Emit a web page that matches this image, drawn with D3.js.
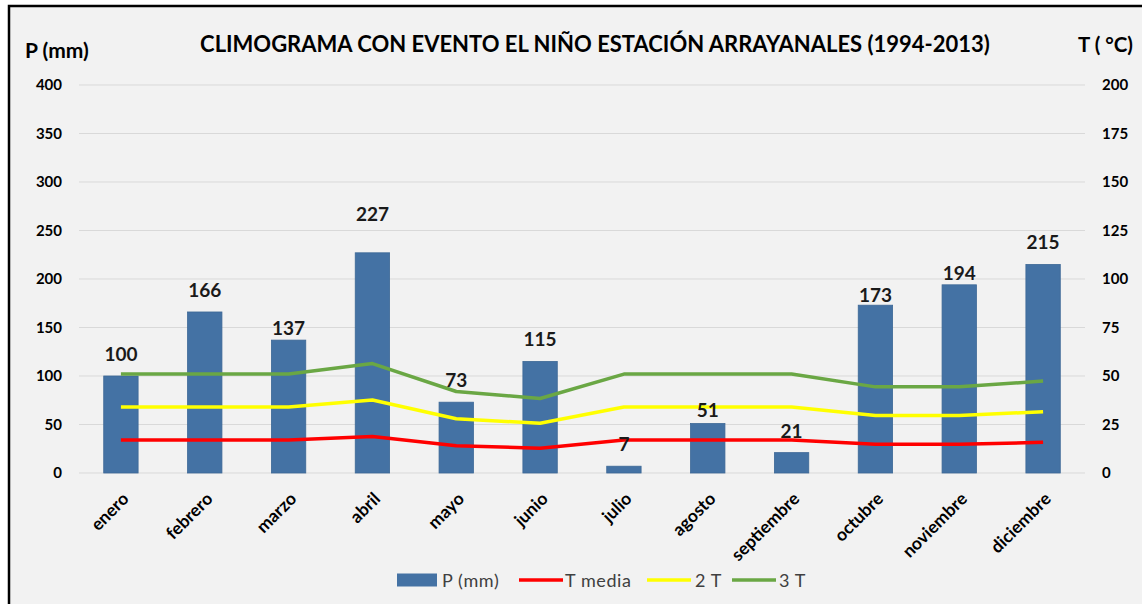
<!DOCTYPE html>
<html lang="es">
  <head>
    <meta charset="UTF-8" />
    <title>Climograma Arrayanales</title>
    <style>
      body { margin: 0; background: #fff; }
      text { font-family: Lato, "Open Sans", sans-serif; }
    </style>
  </head>
  <body>
    <script src="https://d3js.org/d3.v7.min.js"></script>
    <script>
      const months = ["enero", "febrero", "marzo", "abril", "mayo", "junio",
        "julio", "agosto", "septiembre", "octubre", "noviembre", "diciembre"];
      const precip = [100, 166, 137, 227, 73, 115, 7, 51, 21, 173, 194, 215];
      const tMedia = [17.0, 17.0, 17.0, 18.8, 14.0, 12.8, 17.0, 17.0, 17.0, 14.8, 14.8, 15.8];
      const pTicks = [0, 50, 100, 150, 200, 250, 300, 350, 400];
      const tTicks = [0, 25, 50, 75, 100, 125, 150, 175, 200];

      const W = 1142, H = 604;
      const margin = { top: 85, right: 57, bottom: 131, left: 79 };
      // gap in px between each bar top and its label (labels were nudged by hand)
      const labelGap = [15, 15, 5, 32, 15, 15, 15, 7, 15, 3, 5, 15];

      const svg = d3.select("body").append("svg")
        .attr("width", W).attr("height", H);

      // frame
      svg.append("rect")
        .attr("x", 9).attr("y", 6)
        .attr("width", W + 10).attr("height", H + 10)
        .attr("fill", "#f2f2f2")
        .attr("stroke", "#000").attr("stroke-width", 2.5);

      const x = d3.scaleBand()
        .domain(months)
        .range([margin.left, W - margin.right])
        .paddingInner(0.59).paddingOuter(0.295);
      const xc = d3.scalePoint()
        .domain(months)
        .range([margin.left, W - margin.right])
        .padding(0.5);

      const yP = d3.scaleLinear().domain([0, 400]).range([H - margin.bottom, margin.top]);
      const yT = d3.scaleLinear().domain([0, 200]).range([H - margin.bottom, margin.top]);

      // gridlines
      svg.append("g")
        .selectAll("line")
        .data(pTicks)
        .join("line")
        .attr("x1", margin.left).attr("x2", W - margin.right)
        .attr("y1", (d) => yP(d)).attr("y2", (d) => yP(d))
        .attr("stroke", "#d9d9d9").attr("stroke-width", 1);

      // left axis
      svg.append("g")
        .attr("transform", `translate(${margin.left - 17},0)`)
        .call(d3.axisLeft(yP).tickValues(pTicks).tickSize(0).tickPadding(0))
        .call((g) => g.select(".domain").remove())
        .call((g) => g.selectAll("text")
          .attr("font-size", 15).attr("font-weight", "bold")
          .attr("font-family", "Lato").attr("fill", "#000"));

      // right axis
      svg.append("g")
        .attr("transform", `translate(${W - margin.right + 17},0)`)
        .call(d3.axisRight(yT).tickValues(tTicks).tickSize(0).tickPadding(0))
        .call((g) => g.select(".domain").remove())
        .call((g) => g.selectAll("text")
          .attr("font-size", 15).attr("font-weight", "bold")
          .attr("font-family", "Lato").attr("fill", "#000"));

      // bars
      svg.append("g")
        .selectAll("rect")
        .data(precip)
        .join("rect")
        .attr("x", (d, i) => x(months[i]))
        .attr("y", (d) => yP(d))
        .attr("width", x.bandwidth())
        .attr("height", (d) => yP(0) - yP(d))
        .attr("fill", "#4472a4")
        .attr("stroke", "#3d6896").attr("stroke-width", 0.8);

      // temperature lines
      const series = [
        { name: "T media", color: "#ff0000", k: 1 },
        { name: "2 T", color: "#ffff00", k: 2 },
        { name: "3 T", color: "#6aa744", k: 3 }
      ];
      const line = d3.line()
        .x((d, i) => xc(months[i]))
        .y((d) => yT(d));
      svg.append("g")
        .selectAll("path")
        .data(series)
        .join("path")
        .attr("d", (s) => line(tMedia.map((t) => t * s.k)))
        .attr("fill", "none")
        .attr("stroke", (s) => s.color)
        .attr("stroke-width", 3.5)
        .attr("stroke-linejoin", "round");

      // bar labels
      svg.append("g")
        .selectAll("text")
        .data(precip)
        .join("text")
        .attr("x", (d, i) => xc(months[i]))
        .attr("y", (d, i) => yP(d) - labelGap[i])
        .attr("text-anchor", "middle")
        .attr("font-size", 19).attr("font-weight", "bold")
        .attr("fill", "#1a1a1a")
        .text((d) => d);

      // category labels
      svg.append("g")
        .selectAll("text")
        .data(months)
        .join("text")
        .attr("transform", (d) => `translate(${xc(d) + 9},${H - margin.bottom + 27}) rotate(-45)`)
        .attr("text-anchor", "end")
        .attr("font-size", 17.5).attr("font-weight", "bold")
        .attr("fill", "#000")
        .text((d) => d);

      // titles
      svg.append("text")
        .attr("x", 595).attr("y", 52)
        .attr("text-anchor", "middle")
        .attr("font-size", 22).attr("font-weight", "bold")
        .attr("fill", "#000")
        .text("CLIMOGRAMA CON EVENTO EL NIÑO ESTACIÓN ARRAYANALES (1994-2013)");
      svg.append("text")
        .attr("x", 25).attr("y", 58)
        .attr("font-size", 21).attr("font-weight", "bold")
        .text("P (mm)");
      svg.append("text")
        .attr("x", 1133).attr("y", 52)
        .attr("text-anchor", "end")
        .attr("font-size", 20.5).attr("font-weight", "bold")
        .text("T ( °C)");

      // legend
      const legend = svg.append("g").attr("transform", "translate(0,580)");
      legend.append("rect")
        .attr("x", 397).attr("y", -6.5).attr("width", 40).attr("height", 13)
        .attr("fill", "#4472a4");
      legend.append("text")
        .attr("x", 442).attr("y", 6.5)
        .attr("font-size", 18).attr("fill", "#404040")
        .attr("letter-spacing", 0.6)
        .text("P (mm)");
      const legItems = [
        { s: series[0], x: 519, tx: 565 },
        { s: series[1], x: 647, tx: 695 },
        { s: series[2], x: 732, tx: 779 }
      ];
      legend.selectAll("line")
        .data(legItems)
        .join("line")
        .attr("x1", (d) => d.x).attr("x2", (d) => d.x + 44)
        .attr("y1", 0).attr("y2", 0)
        .attr("stroke", (d) => d.s.color).attr("stroke-width", 3.5);
      legend.selectAll("text.leg")
        .data(legItems)
        .join("text")
        .attr("class", "leg")
        .attr("x", (d) => d.tx).attr("y", 6.5)
        .attr("font-size", 18).attr("fill", "#404040")
        .attr("letter-spacing", 0.6)
        .text((d) => d.s.name);
    </script>
  </body>
</html>
